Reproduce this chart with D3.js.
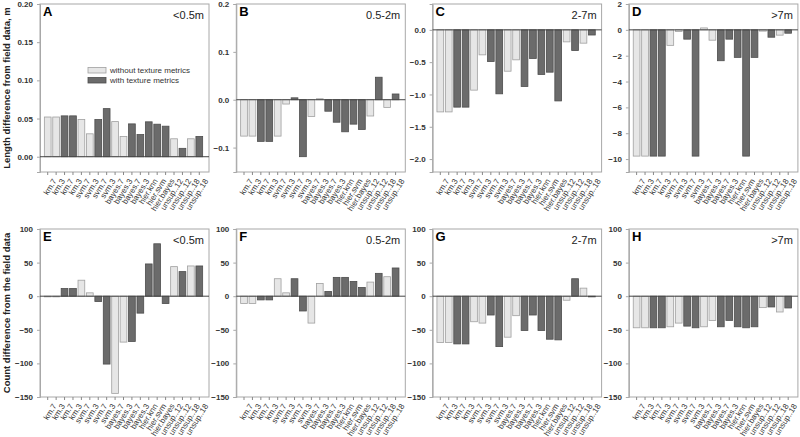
<!DOCTYPE html>
<html><head><meta charset="utf-8">
<script src="https://cdn.jsdelivr.net/npm/d3@7"></script>
<style>body{margin:0;background:#fff}svg{display:block;font-family:"Liberation Sans",Arial,sans-serif}</style>
</head><body><svg id="c" width="800" height="437"></svg>
<script>
const categories = ["km.7","km.3","km.7","km.3","svm.7","svm.3","svm.7","svm.3","bayes.7","bayes.3","bayes.7","bayes.3","hier.knn","hier.svm","hier.bayes","unsup..12","unsup..12","unsup..18","unsup..18"];
const texture = [0,0,1,1,0,0,1,1,0,0,1,1,1,1,1,0,1,0,1];
const seriesNames = ["without texture metrics","with texture metrics"];
const lengthA = [0.052,0.052,0.0535,0.0535,0.0487,0.030,0.0487,0.063,0.046,0.0265,0.043,0.029,0.0457,0.0426,0.040,0.0235,0.011,0.0235,0.0265];
const lengthB = [-0.076,-0.076,-0.087,-0.087,-0.076,-0.009,0.004,-0.119,-0.035,0.002,-0.024,-0.047,-0.067,-0.051,-0.062,-0.034,0.047,-0.016,0.012];
const lengthC = [-1.27,-1.27,-1.196,-1.196,-0.933,-0.387,-0.49,-0.99,-0.64,-0.464,-0.876,-0.443,-0.69,-0.655,-1.10,-0.186,-0.32,-0.206,-0.08];
const lengthD = [-9.77,-9.77,-9.77,-9.77,-1.2,-0.13,-0.72,-9.77,0.15,-0.8,-2.39,-0.72,-2.13,-9.77,-2.13,-0.1,-0.57,-0.41,-0.26];
const countE = [-1,-1,11.4,11.4,23.8,5,-8,-101,-144.6,-68.3,-67.3,-25.2,48,78,-11,44,36.6,45,45];
const countF = [-11,-11,-5.5,-5.5,26,5,26,-22,-40,19,7,28,28,22,13,21,34,29,42];
const countG = [-69,-69,-71,-71,-38,-40,-28,-75,-61,-29,-51,-28,-51,-64,-65,-6,26,12,-1];
const countH = [-47,-47,-47,-47,-45.5,-40,-44.5,-47,-45.5,-36,-45.5,-36,-45.5,-47,-45.5,-17,-16,-23.5,-17.5];
const panelLetters = ["A","B","C","D","E","F","G","H"];
const sizeClasses = ["<0.5m","0.5-2m","2-7m",">7m"];
const ticksA = [0,0.05,0.10,0.15,0.20];
const ticksB = [-0.1,0.0,0.1,0.2];
const ticksC = [-2.0,-1.5,-1.0,-0.5,0.0];
const ticksD = [-10,-8,-6,-4,-2,0,2];
const ticksCount = [-150,-100,-50,0,50,100];
const yTitles = ["Length difference from field data, m","Count difference from the field data"];

const panels = [
  {vals:lengthA, dom:[-0.02,0.2], ticks:ticksA, fmt:d3.format(".2f")},
  {vals:lengthB, dom:[-0.151,0.2], ticks:ticksB, fmt:d3.format(".1f")},
  {vals:lengthC, dom:[-2.2,0.4], ticks:ticksC, fmt:d3.format(".1f")},
  {vals:lengthD, dom:[-11,2], ticks:ticksD, fmt:d3.format("d")},
  {vals:countE, dom:[-150,100], ticks:ticksCount, fmt:d3.format("d")},
  {vals:countF, dom:[-150,100], ticks:ticksCount, fmt:d3.format("d")},
  {vals:countG, dom:[-150,100], ticks:ticksCount, fmt:d3.format("d")},
  {vals:countH, dom:[-150,100], ticks:ticksCount, fmt:d3.format("d")}
];
const svg = d3.select("#c");
const colFill = ["#e6e6e6","#6b6b6b"], colStroke = ["#a0a0a0","#4d4d4d"];
const W = 169, rows=[[4,172],[229,397]];
panels.forEach((p,i)=>{
  const col=i%4,row=Math.floor(i/4);
  const x0 = 40 + col*196.3, x1 = x0+W;
  const [y0,y1] = rows[row];
  const g = svg.append("g");
  const x = d3.scaleBand().domain(d3.range(categories.length)).range([x0+3.5,x1-5.5]).paddingInner(0.2).paddingOuter(0.1);
  const y = d3.scaleLinear().domain(p.dom).range([y1,y0]);
  g.append("rect").attr("x",x0).attr("y",y0).attr("width",W).attr("height",y1-y0).attr("fill","none").attr("stroke","#a8a8a8").attr("stroke-width",1);
  const ya = g.append("g").attr("transform",`translate(${x0},0)`).call(d3.axisLeft(y).tickValues(p.ticks).tickFormat(p.fmt).tickSize(3).tickPadding(4));
  ya.select(".domain").attr("stroke","#a8a8a8");
  ya.selectAll(".tick line").attr("stroke","#a8a8a8");
  ya.selectAll("text").attr("font-size",8).attr("font-weight","bold").attr("fill","#333");
  const xa = g.append("g").attr("transform",`translate(0,${y1})`).call(d3.axisBottom(x).tickFormat(j=>categories[j]).tickSize(3).tickPadding(2));
  xa.select(".domain").remove();
  xa.selectAll(".tick line").attr("stroke","#888");
  xa.selectAll("text").attr("font-size",8).attr("fill","#333").attr("text-anchor","end")
    .attr("transform","translate(3,5) rotate(-58)").attr("dy","0.3em");
  g.selectAll(".bar").data(p.vals).join("rect")
    .attr("x",(d,j)=>x(j)).attr("width",x.bandwidth())
    .attr("y",d=>y(Math.max(0,d))).attr("height",d=>Math.abs(y(d)-y(0)))
    .attr("fill",(d,j)=>colFill[texture[j]]).attr("stroke",(d,j)=>colStroke[texture[j]]).attr("stroke-width",0.8);
  g.append("line").attr("x1",x0).attr("x2",x1).attr("y1",y(0)).attr("y2",y(0)).attr("stroke","#444").attr("stroke-width",1);
  g.append("text").attr("x",x0+3).attr("y",y0+12).text(panelLetters[i]).attr("font-size",13).attr("font-weight","bold").attr("fill","#000");
  g.append("text").attr("x",x1-5).attr("y",y0+15).attr("text-anchor","end").text(sizeClasses[col]).attr("font-size",11).attr("fill","#222");
});
const lg = svg.append("g");
seriesNames.forEach((n,k)=>{
  lg.append("rect").attr("x",88).attr("y",67.5+k*10).attr("width",18).attr("height",5.5).attr("fill",colFill[k]).attr("stroke",colStroke[k]).attr("stroke-width",0.8);
  lg.append("text").attr("x",110).attr("y",73+k*10).text(n).attr("font-size",8).attr("fill","#333");
});
[[88,0],[313,1]].forEach(([cy,k])=>{
  svg.append("text").attr("transform",`translate(10,${cy}) rotate(-90)`).attr("text-anchor","middle").text(yTitles[k]).attr("font-size",9.5).attr("font-weight","bold").attr("fill","#222");
});
</script></body></html>
